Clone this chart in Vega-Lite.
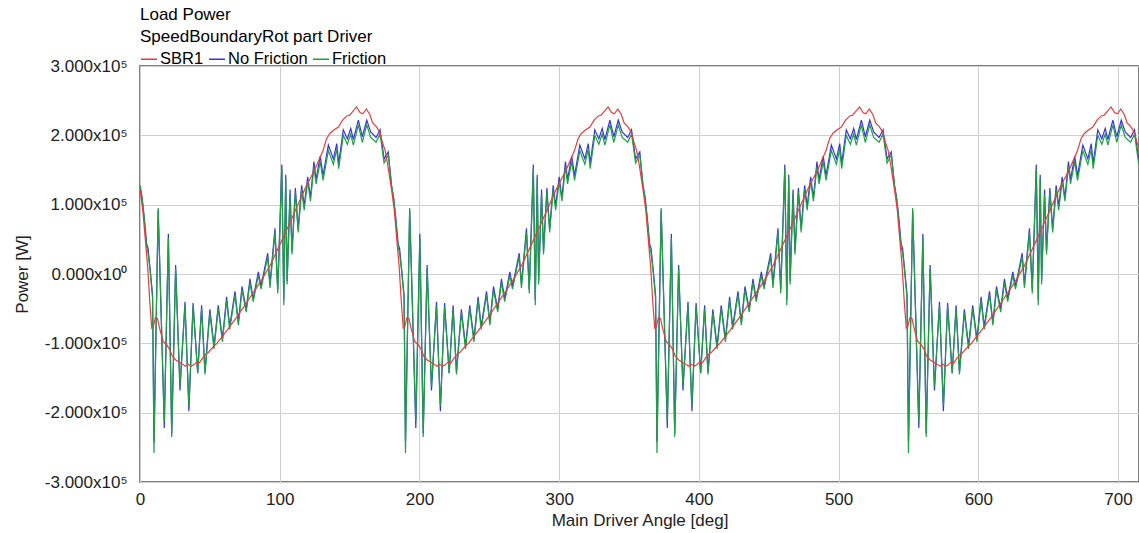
{
"$schema": "https://vega.github.io/schema/vega-lite/v6.json",
"width": 999,
"height": 416,
"autosize": {"type": "none"},
"padding": {"left": 140, "top": 66, "right": 0, "bottom": 51},
"background": "white",
"config": {
 "view": {"stroke": "#555555", "strokeWidth": 1.5},
 "font": "Liberation Sans",
 "axis": {"labelFont": "Liberation Sans", "titleFont": "Liberation Sans", "gridColor": "#cfcfcf", "gridWidth": 1, "domain": false, "ticks": false, "labelColor": "#222222", "titleColor": "#222222", "labelFontSize": 17, "titleFontSize": 17, "titleFontWeight": "normal"},
 "legend": {"orient": "none", "legendX": 0, "legendY": -16, "direction": "horizontal", "symbolType": "stroke", "symbolSize": 256, "symbolStrokeWidth": 1.5, "labelFont": "Liberation Sans", "labelFontSize": 16.5, "labelColor": "#000000", "columnPadding": 2, "labelOffset": 2, "padding": 0, "title": null}
},
"title": {"text": ["Load Power", "SpeedBoundaryRot part Driver"], "anchor": "start", "frame": "group", "fontSize": 17, "fontWeight": "normal", "font": "Liberation Sans", "color": "#000000", "lineHeight": 22, "offset": 4},
"datasets": {
"osc": [
{"a":0,"f":128000,"n":128000},{"a":1.5,"f":110000,"n":110000},{"a":3,"f":80000,"n":82000},{"a":4.8,"f":38000,"n":43000},{"a":5.8,"f":30000,"n":37000},{"a":7.2,"f":5000,"n":8000},{"a":8.4,"f":-22000,"n":-17000},{"a":9,"f":-35000,"n":-30000},{"a":10,"f":-258000,"n":-242000},{"a":13,"f":95000,"n":92000},{"a":17.4,"f":-212000,"n":-222000},{"a":20.3,"f":52000,"n":58000},{"a":22.7,"f":-235000,"n":-230000},{"a":25.5,"f":8000,"n":13000},{"a":28.6,"f":-162000,"n":-168000},{"a":32.2,"f":-45000,"n":-40000},{"a":35,"f":-190000,"n":-198000},{"a":38,"f":-47000,"n":-42000},{"a":41.3,"f":-143000,"n":-143000},{"a":44.1,"f":-50000,"n":-45000},{"a":46.5,"f":-145000,"n":-141000},{"a":50,"f":-56000,"n":-51000},{"a":53,"f":-108000,"n":-104000},{"a":56,"f":-50000,"n":-45000},{"a":59,"f":-98000,"n":-94000},{"a":62,"f":-38000,"n":-33000},{"a":64.2,"f":-80000,"n":-76000},{"a":68,"f":-30000,"n":-25000},{"a":70.4,"f":-74000,"n":-70000},{"a":73,"f":-23000,"n":-18000},{"a":76,"f":-55000,"n":-51000},{"a":78.7,"f":-12000,"n":-7000},{"a":81,"f":-40000,"n":-36000},{"a":84.7,"f":-2000,"n":3000},{"a":86.6,"f":-22000,"n":-18000},{"a":91.4,"f":25000,"n":30000},{"a":93,"f":-20000,"n":-15000},{"a":96.6,"f":60000,"n":66000},{"a":98.6,"f":-28000,"n":-22000},{"a":101.5,"f":152000,"n":158000},{"a":102.9,"f":-45000,"n":-38000},{"a":104.3,"f":138000,"n":143000},{"a":105.3,"f":-15000,"n":-10000},{"a":107.4,"f":115000,"n":122000},{"a":108.8,"f":28000,"n":33000},{"a":111.2,"f":118000,"n":124000},{"a":113.2,"f":60000,"n":65000},{"a":115.7,"f":122000,"n":128000},{"a":117.5,"f":92000,"n":98000},{"a":120,"f":134000,"n":140000},{"a":122,"f":105000,"n":110000},{"a":124.5,"f":155000,"n":162000},{"a":126,"f":130000,"n":136000},{"a":129,"f":162000,"n":170000},{"a":131,"f":135000,"n":142000},{"a":134.8,"f":178000,"n":186000},{"a":138.4,"f":158000,"n":166000},{"a":140.8,"f":180000,"n":188000},{"a":142.2,"f":152000,"n":160000},{"a":145.5,"f":200000,"n":208000},{"a":148.4,"f":187000,"n":195000},{"a":150.8,"f":202000,"n":210000},{"a":152.7,"f":186000,"n":194000},{"a":156.3,"f":215000,"n":222000},{"a":159.1,"f":190000,"n":198000},{"a":162.3,"f":215000,"n":222000},{"a":165.1,"f":197000,"n":205000},{"a":169,"f":190000,"n":197000},{"a":171.8,"f":202000,"n":208000},{"a":174.7,"f":160000,"n":166000},{"a":177.7,"f":172000,"n":176000},
{"a":180,"f":128000,"n":128000},{"a":181.5,"f":110000,"n":110000},{"a":183,"f":80000,"n":82000},{"a":184.8,"f":38000,"n":43000},{"a":185.8,"f":30000,"n":37000},{"a":187.2,"f":5000,"n":8000},{"a":188.4,"f":-22000,"n":-17000},{"a":189,"f":-35000,"n":-30000},{"a":190,"f":-258000,"n":-242000},{"a":193,"f":95000,"n":92000},{"a":197.4,"f":-212000,"n":-222000},{"a":200.3,"f":52000,"n":58000},{"a":202.7,"f":-235000,"n":-230000},{"a":205.5,"f":8000,"n":13000},{"a":208.6,"f":-162000,"n":-168000},{"a":212.2,"f":-45000,"n":-40000},{"a":215,"f":-190000,"n":-198000},{"a":218,"f":-47000,"n":-42000},{"a":221.3,"f":-143000,"n":-143000},{"a":224.1,"f":-50000,"n":-45000},{"a":226.5,"f":-145000,"n":-141000},{"a":230,"f":-56000,"n":-51000},{"a":233,"f":-108000,"n":-104000},{"a":236,"f":-50000,"n":-45000},{"a":239,"f":-98000,"n":-94000},{"a":242,"f":-38000,"n":-33000},{"a":244.2,"f":-80000,"n":-76000},{"a":248,"f":-30000,"n":-25000},{"a":250.4,"f":-74000,"n":-70000},{"a":253,"f":-23000,"n":-18000},{"a":256,"f":-55000,"n":-51000},{"a":258.7,"f":-12000,"n":-7000},{"a":261,"f":-40000,"n":-36000},{"a":264.7,"f":-2000,"n":3000},{"a":266.6,"f":-22000,"n":-18000},{"a":271.4,"f":25000,"n":30000},{"a":273,"f":-20000,"n":-15000},{"a":276.6,"f":60000,"n":66000},{"a":278.6,"f":-28000,"n":-22000},{"a":281.5,"f":152000,"n":158000},{"a":282.9,"f":-45000,"n":-38000},{"a":284.3,"f":138000,"n":143000},{"a":285.3,"f":-15000,"n":-10000},{"a":287.4,"f":115000,"n":122000},{"a":288.8,"f":28000,"n":33000},{"a":291.2,"f":118000,"n":124000},{"a":293.2,"f":60000,"n":65000},{"a":295.7,"f":122000,"n":128000},{"a":297.5,"f":92000,"n":98000},{"a":300,"f":134000,"n":140000},{"a":302,"f":105000,"n":110000},{"a":304.5,"f":155000,"n":162000},{"a":306,"f":130000,"n":136000},{"a":309,"f":162000,"n":170000},{"a":311,"f":135000,"n":142000},{"a":314.8,"f":178000,"n":186000},{"a":318.4,"f":158000,"n":166000},{"a":320.8,"f":180000,"n":188000},{"a":322.2,"f":152000,"n":160000},{"a":325.5,"f":200000,"n":208000},{"a":328.4,"f":187000,"n":195000},{"a":330.8,"f":202000,"n":210000},{"a":332.7,"f":186000,"n":194000},{"a":336.3,"f":215000,"n":222000},{"a":339.1,"f":190000,"n":198000},{"a":342.3,"f":215000,"n":222000},{"a":345.1,"f":197000,"n":205000},{"a":349,"f":190000,"n":197000},{"a":351.8,"f":202000,"n":208000},{"a":354.7,"f":160000,"n":166000},{"a":357.7,"f":172000,"n":176000},
{"a":360,"f":128000,"n":128000},{"a":361.5,"f":110000,"n":110000},{"a":363,"f":80000,"n":82000},{"a":364.8,"f":38000,"n":43000},{"a":365.8,"f":30000,"n":37000},{"a":367.2,"f":5000,"n":8000},{"a":368.4,"f":-22000,"n":-17000},{"a":369,"f":-35000,"n":-30000},{"a":370,"f":-258000,"n":-242000},{"a":373,"f":95000,"n":92000},{"a":377.4,"f":-212000,"n":-222000},{"a":380.3,"f":52000,"n":58000},{"a":382.7,"f":-235000,"n":-230000},{"a":385.5,"f":8000,"n":13000},{"a":388.6,"f":-162000,"n":-168000},{"a":392.2,"f":-45000,"n":-40000},{"a":395,"f":-190000,"n":-198000},{"a":398,"f":-47000,"n":-42000},{"a":401.3,"f":-143000,"n":-143000},{"a":404.1,"f":-50000,"n":-45000},{"a":406.5,"f":-145000,"n":-141000},{"a":410,"f":-56000,"n":-51000},{"a":413,"f":-108000,"n":-104000},{"a":416,"f":-50000,"n":-45000},{"a":419,"f":-98000,"n":-94000},{"a":422,"f":-38000,"n":-33000},{"a":424.2,"f":-80000,"n":-76000},{"a":428,"f":-30000,"n":-25000},{"a":430.4,"f":-74000,"n":-70000},{"a":433,"f":-23000,"n":-18000},{"a":436,"f":-55000,"n":-51000},{"a":438.7,"f":-12000,"n":-7000},{"a":441,"f":-40000,"n":-36000},{"a":444.7,"f":-2000,"n":3000},{"a":446.6,"f":-22000,"n":-18000},{"a":451.4,"f":25000,"n":30000},{"a":453,"f":-20000,"n":-15000},{"a":456.6,"f":60000,"n":66000},{"a":458.6,"f":-28000,"n":-22000},{"a":461.5,"f":152000,"n":158000},{"a":462.9,"f":-45000,"n":-38000},{"a":464.3,"f":138000,"n":143000},{"a":465.3,"f":-15000,"n":-10000},{"a":467.4,"f":115000,"n":122000},{"a":468.8,"f":28000,"n":33000},{"a":471.2,"f":118000,"n":124000},{"a":473.2,"f":60000,"n":65000},{"a":475.7,"f":122000,"n":128000},{"a":477.5,"f":92000,"n":98000},{"a":480,"f":134000,"n":140000},{"a":482,"f":105000,"n":110000},{"a":484.5,"f":155000,"n":162000},{"a":486,"f":130000,"n":136000},{"a":489,"f":162000,"n":170000},{"a":491,"f":135000,"n":142000},{"a":494.8,"f":178000,"n":186000},{"a":498.4,"f":158000,"n":166000},{"a":500.8,"f":180000,"n":188000},{"a":502.2,"f":152000,"n":160000},{"a":505.5,"f":200000,"n":208000},{"a":508.4,"f":187000,"n":195000},{"a":510.8,"f":202000,"n":210000},{"a":512.7,"f":186000,"n":194000},{"a":516.3,"f":215000,"n":222000},{"a":519.1,"f":190000,"n":198000},{"a":522.3,"f":215000,"n":222000},{"a":525.1,"f":197000,"n":205000},{"a":529,"f":190000,"n":197000},{"a":531.8,"f":202000,"n":208000},{"a":534.7,"f":160000,"n":166000},{"a":537.7,"f":172000,"n":176000},
{"a":540,"f":128000,"n":128000},{"a":541.5,"f":110000,"n":110000},{"a":543,"f":80000,"n":82000},{"a":544.8,"f":38000,"n":43000},{"a":545.8,"f":30000,"n":37000},{"a":547.2,"f":5000,"n":8000},{"a":548.4,"f":-22000,"n":-17000},{"a":549,"f":-35000,"n":-30000},{"a":550,"f":-258000,"n":-242000},{"a":553,"f":95000,"n":92000},{"a":557.4,"f":-212000,"n":-222000},{"a":560.3,"f":52000,"n":58000},{"a":562.7,"f":-235000,"n":-230000},{"a":565.5,"f":8000,"n":13000},{"a":568.6,"f":-162000,"n":-168000},{"a":572.2,"f":-45000,"n":-40000},{"a":575,"f":-190000,"n":-198000},{"a":578,"f":-47000,"n":-42000},{"a":581.3,"f":-143000,"n":-143000},{"a":584.1,"f":-50000,"n":-45000},{"a":586.5,"f":-145000,"n":-141000},{"a":590,"f":-56000,"n":-51000},{"a":593,"f":-108000,"n":-104000},{"a":596,"f":-50000,"n":-45000},{"a":599,"f":-98000,"n":-94000},{"a":602,"f":-38000,"n":-33000},{"a":604.2,"f":-80000,"n":-76000},{"a":608,"f":-30000,"n":-25000},{"a":610.4,"f":-74000,"n":-70000},{"a":613,"f":-23000,"n":-18000},{"a":616,"f":-55000,"n":-51000},{"a":618.7,"f":-12000,"n":-7000},{"a":621,"f":-40000,"n":-36000},{"a":624.7,"f":-2000,"n":3000},{"a":626.6,"f":-22000,"n":-18000},{"a":631.4,"f":25000,"n":30000},{"a":633,"f":-20000,"n":-15000},{"a":636.6,"f":60000,"n":66000},{"a":638.6,"f":-28000,"n":-22000},{"a":641.5,"f":152000,"n":158000},{"a":642.9,"f":-45000,"n":-38000},{"a":644.3,"f":138000,"n":143000},{"a":645.3,"f":-15000,"n":-10000},{"a":647.4,"f":115000,"n":122000},{"a":648.8,"f":28000,"n":33000},{"a":651.2,"f":118000,"n":124000},{"a":653.2,"f":60000,"n":65000},{"a":655.7,"f":122000,"n":128000},{"a":657.5,"f":92000,"n":98000},{"a":660,"f":134000,"n":140000},{"a":662,"f":105000,"n":110000},{"a":664.5,"f":155000,"n":162000},{"a":666,"f":130000,"n":136000},{"a":669,"f":162000,"n":170000},{"a":671,"f":135000,"n":142000},{"a":674.8,"f":178000,"n":186000},{"a":678.4,"f":158000,"n":166000},{"a":680.8,"f":180000,"n":188000},{"a":682.2,"f":152000,"n":160000},{"a":685.5,"f":200000,"n":208000},{"a":688.4,"f":187000,"n":195000},{"a":690.8,"f":202000,"n":210000},{"a":692.7,"f":186000,"n":194000},{"a":696.3,"f":215000,"n":222000},{"a":699.1,"f":190000,"n":198000},{"a":702.3,"f":215000,"n":222000},{"a":705.1,"f":197000,"n":205000},{"a":709,"f":190000,"n":197000},{"a":711.8,"f":202000,"n":208000},{"a":714.7,"f":160000,"n":166000},{"a":717.7,"f":172000,"n":176000},{"a":720,"f":128000,"n":128000}
],
"sbr": [
{"a":0,"p":122000},{"a":2,"p":92000},{"a":4,"p":45000},{"a":5.5,"p":10000},{"a":7,"p":-40000},{"a":8.4,"p":-78000},{"a":9.5,"p":-76000},{"a":11,"p":-63000},{"a":12.5,"p":-64000},{"a":14,"p":-78000},{"a":16.5,"p":-97000},{"a":19,"p":-102000},{"a":21,"p":-108000},{"a":23,"p":-118000},{"a":25.5,"p":-124000},{"a":28,"p":-127000},{"a":30.5,"p":-130000},{"a":32.5,"p":-133000},{"a":34.5,"p":-130000},{"a":36.5,"p":-133000},{"a":38.5,"p":-131000},{"a":40.5,"p":-127000},{"a":42.5,"p":-128000},{"a":44.5,"p":-122000},{"a":47,"p":-116000},{"a":49,"p":-113000},{"a":52,"p":-106000},{"a":55,"p":-100000},{"a":62,"p":-82000},{"a":70,"p":-60000},{"a":78,"p":-36000},{"a":86,"p":-12000},{"a":93,"p":12000},{"a":100,"p":42000},{"a":106,"p":68000},{"a":113,"p":100000},{"a":119,"p":127000},{"a":125,"p":150000},{"a":131,"p":178000},{"a":133.5,"p":195000},{"a":136,"p":203000},{"a":139,"p":208000},{"a":142,"p":212000},{"a":145,"p":222000},{"a":148,"p":228000},{"a":150,"p":229000},{"a":152,"p":234000},{"a":155,"p":241000},{"a":157.5,"p":233000},{"a":159.5,"p":231000},{"a":162,"p":238000},{"a":164.5,"p":230000},{"a":166.5,"p":218000},{"a":169,"p":213000},{"a":171.5,"p":205000},{"a":173.5,"p":190000},{"a":175.5,"p":178000},{"a":177.5,"p":155000},
{"a":180,"p":122000},{"a":182,"p":92000},{"a":184,"p":45000},{"a":185.5,"p":10000},{"a":187,"p":-40000},{"a":188.4,"p":-78000},{"a":189.5,"p":-76000},{"a":191,"p":-63000},{"a":192.5,"p":-64000},{"a":194,"p":-78000},{"a":196.5,"p":-97000},{"a":199,"p":-102000},{"a":201,"p":-108000},{"a":203,"p":-118000},{"a":205.5,"p":-124000},{"a":208,"p":-127000},{"a":210.5,"p":-130000},{"a":212.5,"p":-133000},{"a":214.5,"p":-130000},{"a":216.5,"p":-133000},{"a":218.5,"p":-131000},{"a":220.5,"p":-127000},{"a":222.5,"p":-128000},{"a":224.5,"p":-122000},{"a":227,"p":-116000},{"a":229,"p":-113000},{"a":232,"p":-106000},{"a":235,"p":-100000},{"a":242,"p":-82000},{"a":250,"p":-60000},{"a":258,"p":-36000},{"a":266,"p":-12000},{"a":273,"p":12000},{"a":280,"p":42000},{"a":286,"p":68000},{"a":293,"p":100000},{"a":299,"p":127000},{"a":305,"p":150000},{"a":311,"p":178000},{"a":313.5,"p":195000},{"a":316,"p":203000},{"a":319,"p":208000},{"a":322,"p":212000},{"a":325,"p":222000},{"a":328,"p":228000},{"a":330,"p":229000},{"a":332,"p":234000},{"a":335,"p":241000},{"a":337.5,"p":233000},{"a":339.5,"p":231000},{"a":342,"p":238000},{"a":344.5,"p":230000},{"a":346.5,"p":218000},{"a":349,"p":213000},{"a":351.5,"p":205000},{"a":353.5,"p":190000},{"a":355.5,"p":178000},{"a":357.5,"p":155000},
{"a":360,"p":122000},{"a":362,"p":92000},{"a":364,"p":45000},{"a":365.5,"p":10000},{"a":367,"p":-40000},{"a":368.4,"p":-78000},{"a":369.5,"p":-76000},{"a":371,"p":-63000},{"a":372.5,"p":-64000},{"a":374,"p":-78000},{"a":376.5,"p":-97000},{"a":379,"p":-102000},{"a":381,"p":-108000},{"a":383,"p":-118000},{"a":385.5,"p":-124000},{"a":388,"p":-127000},{"a":390.5,"p":-130000},{"a":392.5,"p":-133000},{"a":394.5,"p":-130000},{"a":396.5,"p":-133000},{"a":398.5,"p":-131000},{"a":400.5,"p":-127000},{"a":402.5,"p":-128000},{"a":404.5,"p":-122000},{"a":407,"p":-116000},{"a":409,"p":-113000},{"a":412,"p":-106000},{"a":415,"p":-100000},{"a":422,"p":-82000},{"a":430,"p":-60000},{"a":438,"p":-36000},{"a":446,"p":-12000},{"a":453,"p":12000},{"a":460,"p":42000},{"a":466,"p":68000},{"a":473,"p":100000},{"a":479,"p":127000},{"a":485,"p":150000},{"a":491,"p":178000},{"a":493.5,"p":195000},{"a":496,"p":203000},{"a":499,"p":208000},{"a":502,"p":212000},{"a":505,"p":222000},{"a":508,"p":228000},{"a":510,"p":229000},{"a":512,"p":234000},{"a":515,"p":241000},{"a":517.5,"p":233000},{"a":519.5,"p":231000},{"a":522,"p":238000},{"a":524.5,"p":230000},{"a":526.5,"p":218000},{"a":529,"p":213000},{"a":531.5,"p":205000},{"a":533.5,"p":190000},{"a":535.5,"p":178000},{"a":537.5,"p":155000},
{"a":540,"p":122000},{"a":542,"p":92000},{"a":544,"p":45000},{"a":545.5,"p":10000},{"a":547,"p":-40000},{"a":548.4,"p":-78000},{"a":549.5,"p":-76000},{"a":551,"p":-63000},{"a":552.5,"p":-64000},{"a":554,"p":-78000},{"a":556.5,"p":-97000},{"a":559,"p":-102000},{"a":561,"p":-108000},{"a":563,"p":-118000},{"a":565.5,"p":-124000},{"a":568,"p":-127000},{"a":570.5,"p":-130000},{"a":572.5,"p":-133000},{"a":574.5,"p":-130000},{"a":576.5,"p":-133000},{"a":578.5,"p":-131000},{"a":580.5,"p":-127000},{"a":582.5,"p":-128000},{"a":584.5,"p":-122000},{"a":587,"p":-116000},{"a":589,"p":-113000},{"a":592,"p":-106000},{"a":595,"p":-100000},{"a":602,"p":-82000},{"a":610,"p":-60000},{"a":618,"p":-36000},{"a":626,"p":-12000},{"a":633,"p":12000},{"a":640,"p":42000},{"a":646,"p":68000},{"a":653,"p":100000},{"a":659,"p":127000},{"a":665,"p":150000},{"a":671,"p":178000},{"a":673.5,"p":195000},{"a":676,"p":203000},{"a":679,"p":208000},{"a":682,"p":212000},{"a":685,"p":222000},{"a":688,"p":228000},{"a":690,"p":229000},{"a":692,"p":234000},{"a":695,"p":241000},{"a":697.5,"p":233000},{"a":699.5,"p":231000},{"a":702,"p":238000},{"a":704.5,"p":230000},{"a":706.5,"p":218000},{"a":709,"p":213000},{"a":711.5,"p":205000},{"a":713.5,"p":190000},{"a":715.5,"p":178000},{"a":717.5,"p":155000},{"a":720,"p":122000}
]
},
"layer": [
 {
  "data": {"name": "osc"},
  "mark": {"type": "line", "strokeWidth": 1.2, "clip": true},
  "encoding": {
   "x": {"field": "a", "type": "quantitative", "title": "Main Driver Angle [deg]", "scale": {"domain": [0, 715], "nice": false, "zero": false}, "axis": {"values": [0, 100, 200, 300, 400, 500, 600, 700], "labelFlush": false, "labelPadding": 9, "titleY": 43, "titleBaseline": "alphabetic", "gridColor": "#cfcfcf"}},
   "y": {"field": "n", "type": "quantitative", "title": "Power [W]", "scale": {"domain": [-300000, 300000], "nice": false}, "axis": {"values": [-300000, -200000, -100000, 0, 100000, 200000, 300000], "labelExpr": "datum.value == 0 ? '0.000x10⁰' : replace(format(datum.value / 100000, '.3f'), '−', '-') + 'x10⁵'", "labelPadding": 13, "titleX": -118, "titleY": 208, "titleAngle": 270, "titleAlign": "center", "titleBaseline": "middle"}},
   "color": {"datum": "No Friction", "type": "nominal", "scale": {"domain": ["SBR1", "No Friction", "Friction"], "range": ["#e83c3c", "#3535e0", "#1f9e42"]}}
  }
 },
 {
  "data": {"name": "osc"},
  "mark": {"type": "line", "strokeWidth": 1.2, "clip": true},
  "encoding": {
   "x": {"field": "a", "type": "quantitative", "title": "Main Driver Angle [deg]"},
   "y": {"field": "f", "type": "quantitative", "title": "Power [W]"},
   "color": {"datum": "Friction", "type": "nominal"}
  }
 },
 {
  "data": {"name": "sbr"},
  "mark": {"type": "line", "strokeWidth": 1.2, "clip": true},
  "encoding": {
   "x": {"field": "a", "type": "quantitative", "title": "Main Driver Angle [deg]"},
   "y": {"field": "p", "type": "quantitative", "title": "Power [W]"},
   "color": {"datum": "SBR1", "type": "nominal"}
  }
 }
]
}
